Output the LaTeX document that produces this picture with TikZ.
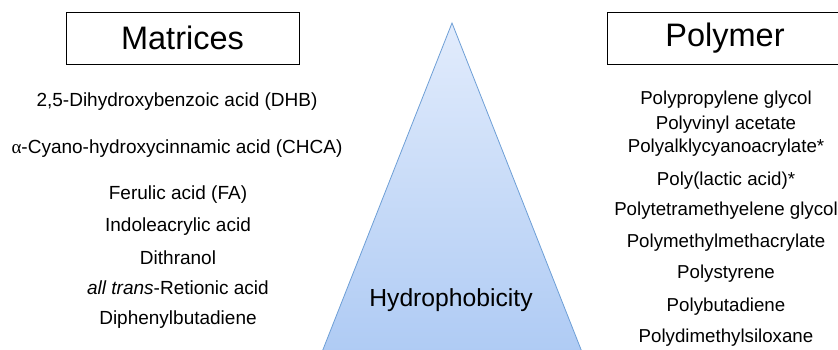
\documentclass[tikz,border=0pt]{standalone}
\usepackage{fontspec}
\setmainfont{Liberation Sans}
\newfontfamily\serifalpha{Liberation Serif}
\definecolor{triedge}{HTML}{6E9FD6}
\definecolor{tritop}{HTML}{E2ECFC}
\definecolor{tribot}{HTML}{AFCBF4}
\begin{document}
\begin{tikzpicture}[x=1pt,y=-1pt,
  titlebox/.style={draw=black,line width=0.9pt,minimum width=233pt,minimum height=52pt,inner sep=0pt,font=\fontsize{32.5}{33}\selectfont},
  item/.style={inner sep=0pt,font=\fontsize{19}{20}\selectfont},
  ritem/.style={inner sep=0pt,font=\fontsize{18.7}{20}\selectfont},
  hyd/.style={inner sep=0pt,font=\fontsize{24.7}{26}\selectfont}]
\useasboundingbox (0,0) rectangle (838,349);
\clip (0,0) rectangle (838,349);
% triangle
\shade[top color=tritop,bottom color=tribot] (452,23) -- (322,352) -- (582,352) -- cycle;
\draw[triedge,line width=0.8pt] (322,352) -- (452,23) -- (582,352);
\node[hyd] (h) at (451,300) {Hydrophobicity};
% boxes
\node[titlebox] (mat) at (182.5,38) {Matrices};
\node[titlebox,minimum width=236pt] (pol) at (725,38) {Polymer};
% left items
\node[item] (m1) at (177,102) {2,5-Dihydroxybenzoic acid (DHB)};
\node[item] (m2) at (177,149) {{\serifalpha α}-Cyano-hydroxycinnamic acid (CHCA)};
\node[item] (m3) at (178,195) {Ferulic acid (FA)};
\node[item] (m4) at (178,227) {Indoleacrylic acid};
\node[item] (m5) at (178,258) {Dithranol};
\node[item] (m6) at (178,288) {\textit{all trans}-Retionic acid};
\node[item] (m7) at (178,320) {Diphenylbutadiene};
% right items
\node[ritem] (p1) at (726,100) {Polypropylene glycol};
\node[ritem] (p2) at (726,125) {Polyvinyl acetate};
\node[ritem] (p3) at (726,148) {Polyalklycyanoacrylate*};
\node[ritem] (p4) at (726,181) {Poly(lactic acid)*};
\node[ritem] (p5) at (726,211) {Polytetramethyelene glycol};
\node[ritem] (p6) at (726,243) {Polymethylmethacrylate};
\node[ritem] (p7) at (726,274) {Polystyrene};
\node[ritem] (p8) at (726,307) {Polybutadiene};
\node[ritem] (p9) at (726,338) {Polydimethylsiloxane};
\end{tikzpicture}
\end{document}
